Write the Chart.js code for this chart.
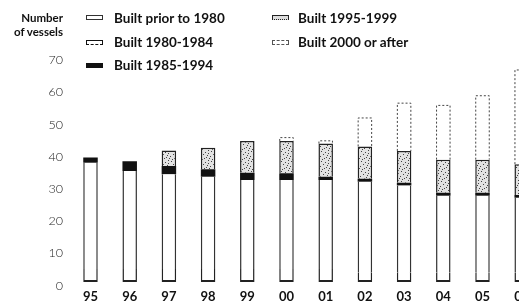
<!DOCTYPE html>
<html>
<head>
<meta charset="utf-8">
<script src="https://cdn.jsdelivr.net/npm/chart.js@4/dist/chart.umd.min.js"></script>
<style>
  html, body { margin: 0; padding: 0; background: #fff; overflow: hidden; }
  #wrap { position: relative; width: 519px; height: 305px; overflow: hidden; }
  canvas { position: absolute; left: 0; top: 0; }
  .t { position: absolute; font-family: Lato, "Open Sans", sans-serif; font-weight: 700; color: #111; white-space: nowrap; }
  .title { font-size: 11.5px; text-align: right; right: 456px; line-height: 14px; }
  .lg { font-size: 13.5px; line-height: 14px; }
  .box { position: absolute; width: 17px; height: 5px; box-sizing: border-box; }
</style>
</head>
<body>
<div id="wrap">
  <canvas id="c" width="545" height="305"></canvas>
  <div class="t title" style="top:11px;">Number<br>of vessels</div>

  <div class="box" style="left:86px;top:15px;border:1px solid #333;background:#fff;"></div>
  <div class="t lg" style="left:114px;top:11px;">Built prior to 1980</div>
  <div class="box" style="left:86px;top:40px;border:1.5px solid #111;border-bottom:1.5px dashed #111;background:#fff;"></div>
  <div class="t lg" style="left:114px;top:35px;">Built 1980-1984</div>
  <div class="box" style="left:86px;top:63px;background:#111;"></div>
  <div class="t lg" style="left:114px;top:58px;">Built 1985-1994</div>

  <div class="box" style="left:272px;top:15px;border:1.5px solid #222;border-bottom:1px dotted #222;background:#ddd;"></div>
  <div class="t lg" style="left:298px;top:11px;">Built 1995-1999</div>
  <div class="box" style="left:272px;top:40px;border:1px dashed #555;background:#fff;"></div>
  <div class="t lg" style="left:298px;top:35px;">Built 2000 or after</div>
</div>
<script>
// ---- data ----
const years      = ['95','96','97','98','99','00','01','02','03','04','05','06'];
const prior1980  = [4, 4, 4, 4, 4, 4, 4, 3, 3, 3, 3, 3];
const built8084  = [33, 30.5, 29.5, 28.7, 27.7, 27.7, 27.7, 28.1, 27, 23.8, 23.8, 23.2];
const built8594  = [1.7, 3, 2.5, 2.3, 2.2, 2.1, 1, 1, 0.8, 0.9, 0.9, 0.8];
const built9599  = [0, 0, 4.8, 6.7, 9.9, 10, 10.3, 10, 9.9, 10.3, 10.3, 9.6];
const built2000  = [0, 0, 0, 0, 0, 1.2, 1, 9, 15, 17, 20, 29.4];
const yTicks     = [0, 10, 20, 30, 40, 50, 60, 70];

// stipple pattern (fixed dot layout)
function stipple() {
  const p = document.createElement('canvas');
  p.width = 10; p.height = 10;
  const g = p.getContext('2d');
  g.fillStyle = '#e2e2e2'; g.fillRect(0, 0, 10, 10);
  g.fillStyle = '#444';
  const dots = [[1,1],[5,2],[8,0],[3,4],[7,5],[0,6],[4,8],[9,8],[2,9],[6,7],[8,3]];
  dots.forEach(d => g.fillRect(d[0], d[1], 1, 1));
  return g.createPattern(p, 'repeat');
}
const ctx = document.getElementById('c').getContext('2d');
const pat = stipple();

const dashedOutline = {
  id: 'dashedOutline',
  afterDatasetsDraw(chart) {
    const meta = chart.getDatasetMeta(4);
    const c = chart.ctx;
    c.save();
    c.strokeStyle = '#444';
    c.lineWidth = 1;
    c.setLineDash([2, 2]);
    meta.data.forEach((el, i) => {
      if (!built2000[i]) return;
      const l = el.x - el.width / 2 + 0.5, r = el.x + el.width / 2 - 0.5;
      c.beginPath();
      c.moveTo(l, el.base); c.lineTo(l, el.y + 0.5); c.lineTo(r, el.y + 0.5); c.lineTo(r, el.base);
      c.stroke();
    });
    c.restore();
  }
};

const common = { barPercentage: 0.74, categoryPercentage: 0.5, borderSkipped: false };

new Chart(ctx, {
  type: 'bar',
  data: {
    labels: years,
    datasets: [
      Object.assign({ label: 'Built prior to 1980', data: prior1980, backgroundColor: '#fff', borderColor: '#222',
        borderWidth: { left: 1.5, right: 1.5, bottom: 2, top: 0 } }, common),
      Object.assign({ label: 'Built 1980-1984', data: built8084, backgroundColor: '#fff', borderColor: '#333',
        borderWidth: { left: 1.5, right: 1.5, bottom: 0, top: 0 } }, common),
      Object.assign({ label: 'Built 1985-1994', data: built8594, backgroundColor: '#111', borderWidth: 0 }, common),
      Object.assign({ label: 'Built 1995-1999', data: built9599, backgroundColor: pat, borderColor: '#222',
        borderWidth: { left: 1.5, right: 1.5, bottom: 0, top: 1.5 } }, common),
      Object.assign({ label: 'Built 2000 or after', data: built2000, backgroundColor: '#fff', borderWidth: 0 }, common)
    ]
  },
  options: {
    responsive: false,
    animation: false,
    layout: { padding: { top: 56.6, right: 3.7, left: 0, bottom: 0 } },
    plugins: { legend: { display: false }, tooltip: { enabled: false } },
    scales: {
      x: {
        stacked: true,
        grid: { display: false, drawTicks: false },
        border: { display: false },
        ticks: { color: '#111', font: { family: 'Lato', weight: 'bold', size: 13 }, padding: 7 },
        afterFit(s) { s.height = 23; }
      },
      y: {
        stacked: true, min: 0, max: 70,
        grid: { display: false, drawTicks: false },
        border: { display: false },
        afterBuildTicks(s) { s.ticks = yTicks.map(v => ({ value: v })); },
        ticks: { color: '#222', font: { family: 'Lato', weight: '300', size: 12.5 }, padding: 8, labelOffset: 3.5 },
        afterFit(s) { s.width = 70.9; }
      }
    }
  },
  plugins: [dashedOutline]
});
</script>
</body>
</html>
